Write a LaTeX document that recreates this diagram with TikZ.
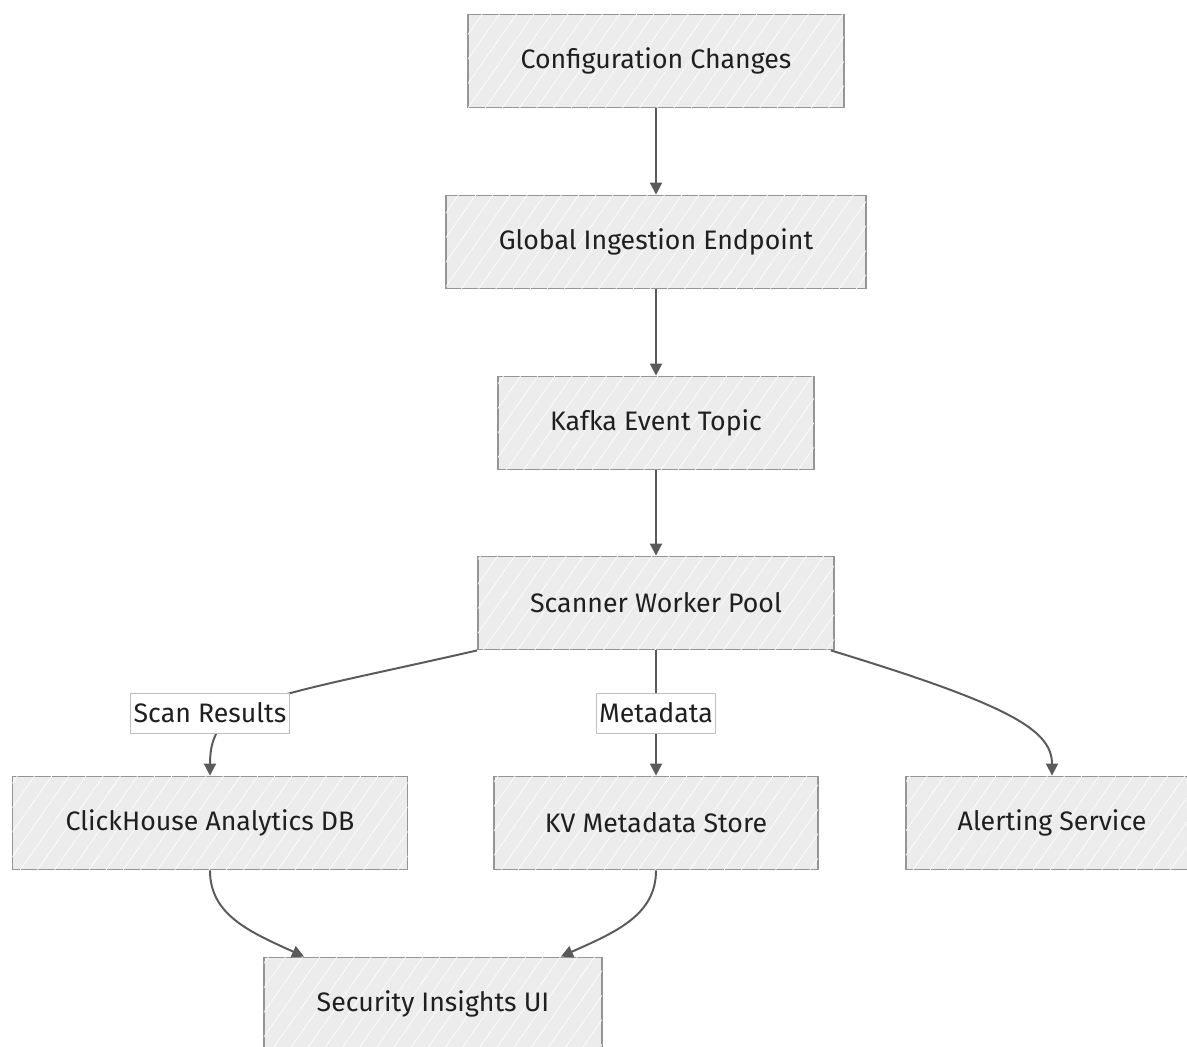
\documentclass[tikz,border=0pt]{standalone}
\usepackage{fontspec}
\setmainfont{Fira Sans}
\usetikzlibrary{arrows.meta,patterns.meta}

\definecolor{boxfill}{HTML}{ECECEC}
\definecolor{boxline}{HTML}{959595}
\definecolor{edgeline}{HTML}{5A5A5A}

\tikzset{
  stage/.style={draw=boxline, line width=1.3pt, fill=boxfill,
    postaction={pattern={Lines[angle=55,distance=10pt,line width=0.45pt]},
      pattern color=white},
    minimum height=2.325cm, font=\fontsize{19}{22}\selectfont,
    text=black!88},
  edgelabel/.style={draw=boxline!60, line width=0.6pt, fill=white,
    inner sep=2pt, minimum height=1cm, font=\fontsize{19}{22}\selectfont,
    text=black!88},
  flow/.style={draw=edgeline, line width=1.4pt,
    -{Triangle[length=0.3cm,width=0.3cm]}}
}

\begin{document}
\begin{tikzpicture}[x=0.025cm, y=-0.025cm]

	\useasboundingbox (0,0) rectangle (1187,1046);

	\node[stage, minimum width=9.4cm] (cfg) at (656,61) {Configuration Changes};
	\node[stage, minimum width=10.5cm] (ingest) at (656,242) {Global Ingestion Endpoint};
	\node[stage, minimum width=7.9cm] (kafka) at (656,423) {Kafka Event Topic};
	\node[stage, minimum width=8.9cm] (scanner) at (656,603) {Scanner Worker Pool};
	\node[stage, minimum width=9.875cm] (clickhouse) at (210,823) {ClickHouse Analytics DB};
	\node[stage, minimum width=8.1cm] (kvstore) at (656,823) {KV Metadata Store};
	\node[stage, minimum width=7.3cm] (alerting) at (1052,823) {Alerting Service};
	\node[stage, minimum width=8.45cm] (insights) at (433,1004) {Security Insights UI};

	\draw[flow] (cfg) -- (ingest);
	\draw[flow] (ingest) -- (kafka);
	\draw[flow] (kafka) -- (scanner);

	\draw[flow] (scanner.south west) .. controls (260,700) and (210,700)
        .. (clickhouse.north);
	\draw[flow] (scanner) -- (kvstore);
	\draw[flow] ([xshift=-0.1cm]scanner.south east) .. controls (1010,705)
        and (1052,730) .. (alerting.north);
	\draw[flow] (clickhouse.south) .. controls (210,915) and (250,932)
        .. ([xshift=1.025cm]insights.north west);
	\draw[flow] (kvstore.south) .. controls (656,915) and (616,932)
        .. ([xshift=-1.05cm]insights.north east);

	\node[edgelabel, minimum width=3.85cm] (scanlbl) at (210,713) {Scan Results};
	\node[edgelabel, minimum width=2.875cm] (metalbl) at (656,713) {Metadata};

\end{tikzpicture}
\end{document}
